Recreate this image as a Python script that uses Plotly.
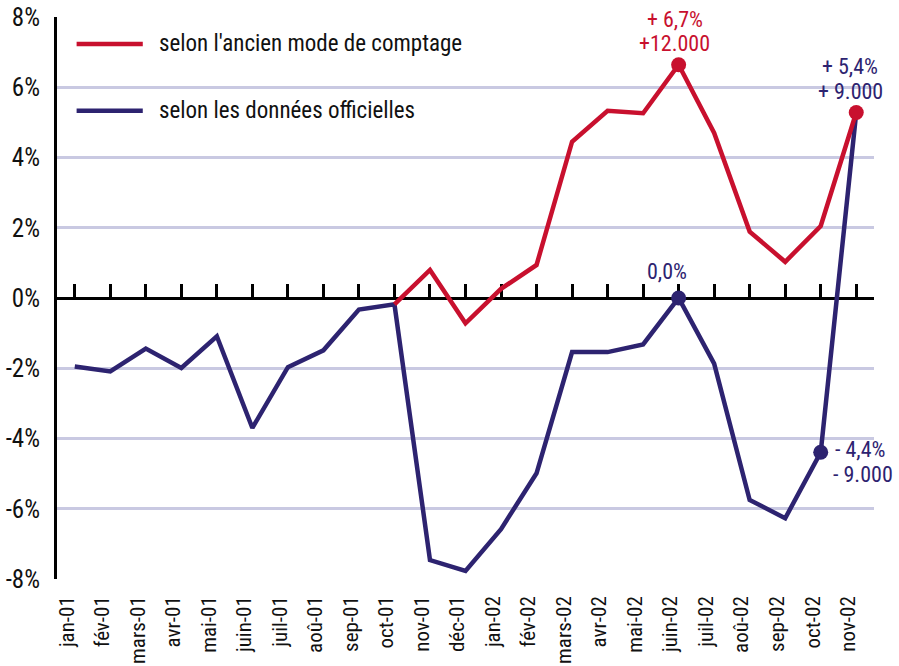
import plotly.graph_objects as go

months = ["jan-01", "fév-01", "mars-01", "avr-01", "mai-01", "juin-01", "juil-01",
          "aoû-01", "sep-01", "oct-01", "nov-01", "déc-01", "jan-02", "fév-02",
          "mars-02", "avr-02", "mai-02", "juin-02", "juil-02", "aoû-02", "sep-02",
          "oct-02", "nov-02"]
officielles = [-1.95, -2.09, -1.44, -1.99, -1.09, -3.70, -1.97, -1.49, -0.33, -0.18,
               -7.46, -7.77, -6.58, -4.99, -1.54, -1.54, -1.32, 0.0, -1.87, -5.75,
               -6.27, -4.39, 5.28]
ancien = [None, None, None, None, None, None, None, None, None, -0.18,
          0.80, -0.72, 0.26, 0.94, 4.45, 5.33, 5.26, 6.64, 4.70, 1.89,
          1.03, 2.05, 5.28]
ytick_vals = [-8, -6, -4, -2, 0, 2, 4, 6, 8]
ytick_text = ["-8%", "-6%", "-4%", "-2%", "0%", "2%", "4%", "6%", "8%"]
legend_names = ["selon l'ancien mode de comptage", "selon les données officielles"]

RED = "#c8102e"
BLUE = "#2d2370"
GRID = "#c9c9e2"
FONT = "Roboto Condensed, Liberation Sans Narrow, sans-serif"

fig = go.Figure()
# invisible trace so that the zero axis (x2) with its ticks is drawn
fig.add_trace(go.Scatter(x=list(range(len(months))), y=[None] * len(months), xaxis="x2",
                         mode="lines", showlegend=False, hoverinfo="skip"))
fig.add_trace(go.Scatter(x=months, y=officielles, mode="lines",
                         line=dict(color=BLUE, width=4.5), showlegend=False,
                         hoverinfo="skip"))
fig.add_trace(go.Scatter(x=months, y=ancien, mode="lines",
                         line=dict(color=RED, width=4.5), showlegend=False,
                         hoverinfo="skip"))
fig.add_trace(go.Scatter(x=[months[17], months[21]], y=[officielles[17], officielles[21]],
                         mode="markers", marker=dict(color=BLUE, size=15),
                         showlegend=False, hoverinfo="skip"))
fig.add_trace(go.Scatter(x=[months[17], months[22]], y=[ancien[17], ancien[22]],
                         mode="markers", marker=dict(color=RED, size=15),
                         showlegend=False, hoverinfo="skip"))

ann_font = dict(family=FONT, size=22)
def ann(x, y, text, color, xshift=0, yshift=0, xanchor="center"):
    fig.add_annotation(x=x, y=y, text=text, showarrow=False, xanchor=xanchor,
                       yanchor="middle", xshift=xshift, yshift=yshift,
                       font=dict(ann_font, color=color))

ann(months[17], ancien[17], "+ 6,7%", RED, xshift=-4, yshift=45)
ann(months[17], ancien[17], "+12.000", RED, xshift=-4, yshift=21)
ann(months[22], ancien[22], "+ 5,4%", BLUE, xshift=-6, yshift=46)
ann(months[22], ancien[22], "+ 9.000", BLUE, xshift=-6, yshift=21)
ann(months[17], officielles[17], "0,0%", BLUE, xshift=-12, yshift=27)
ann(months[21], officielles[21], "- 4,4%", BLUE, xshift=12, yshift=3, xanchor="left")
ann(months[21], officielles[21], "- 9.000", BLUE, xshift=10, yshift=-22, xanchor="left")

for i, (name, color) in enumerate(zip(legend_names, [RED, BLUE])):
    yp = 0.952 - i * 0.119
    fig.add_shape(type="line", xref="paper", yref="paper", x0=0.024, x1=0.105,
                  y0=yp, y1=yp, line=dict(color=color, width=4.5))
    fig.add_annotation(xref="paper", yref="paper", x=0.122, y=yp, text=name,
                       showarrow=False, xanchor="left", yanchor="middle",
                       font=dict(family=FONT, size=23, color="#111111"))

fig.update_layout(
    width=899, height=666,
    margin=dict(l=57, r=25, t=17, b=87),
    plot_bgcolor="white", paper_bgcolor="white",
    font=dict(family=FONT, size=23, color="#111111"),
    xaxis=dict(type="category", range=[-0.5, 22.5], showgrid=False, showline=False,
               ticks="", tickangle=-90, tickfont=dict(size=21), automargin=False,
               ticklabelstandoff=12, ticklabelshift=-8, zeroline=False),
    xaxis2=dict(overlaying="x", anchor="free", position=0.5, range=[-0.5, 22.5],
                tickvals=list(range(len(months))), ticks="inside", ticklen=13,
                tickwidth=3, tickcolor="black", showline=True, linewidth=3,
                linecolor="black", showticklabels=False, showgrid=False,
                zeroline=False, automargin=False, layer="below traces"),
    yaxis=dict(range=[-8, 8], tickvals=ytick_vals, ticktext=ytick_text,
               showgrid=True, gridcolor=GRID, gridwidth=2.5, zeroline=False,
               showline=True, linecolor="black", linewidth=3, ticks="",
               automargin=False, ticklabelstandoff=9, tickfont=dict(size=25)),
)
fig.write_html("out.html")
